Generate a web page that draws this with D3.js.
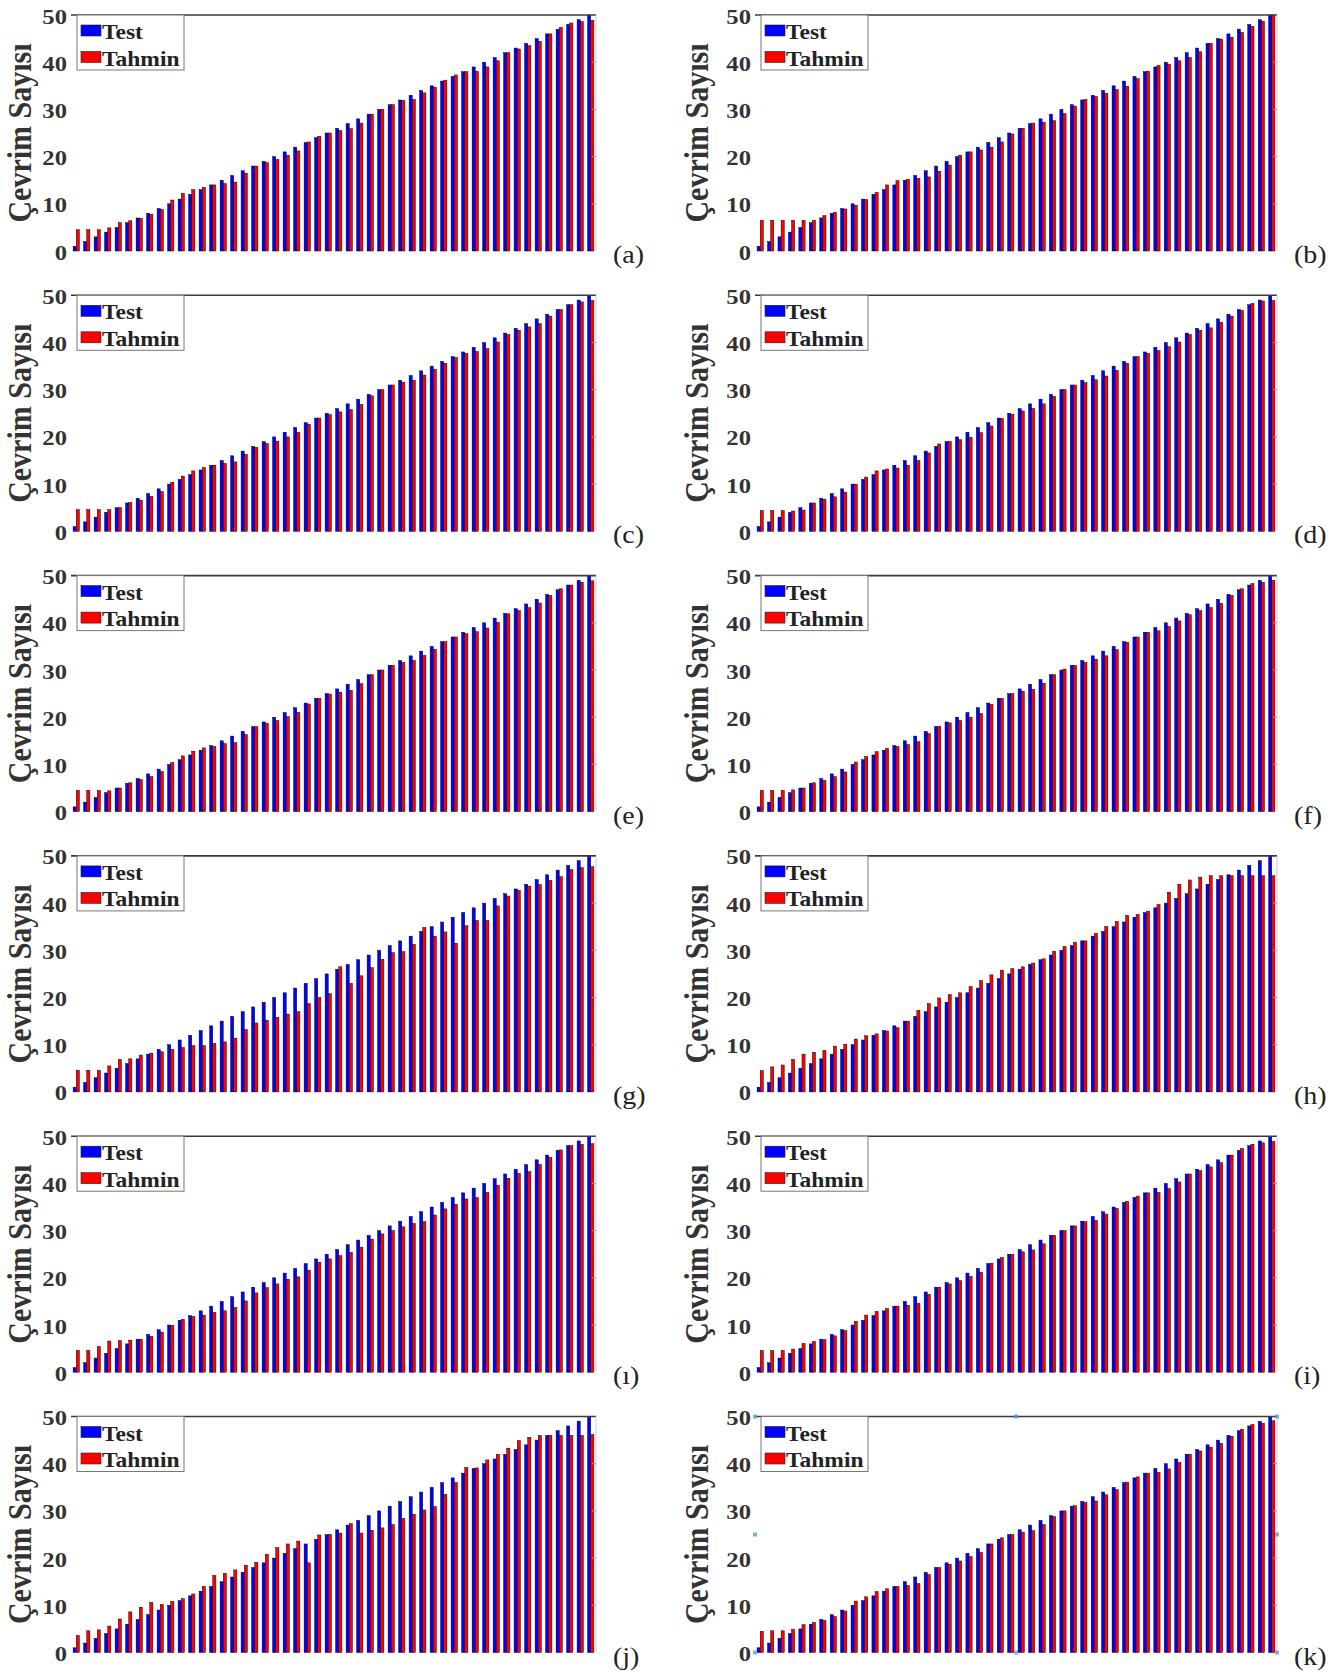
<!DOCTYPE html>
<html>
<head>
<meta charset="utf-8">
<script src="https://cdn.jsdelivr.net/npm/d3@7/dist/d3.min.js"></script>
<style>
  body { margin: 0; background: #fff; }
  svg { display: block; }
</style>
</head>
<body>
<svg id="fig" width="1343" height="1673"></svg>
<script>
// ---- data ---------------------------------------------------------------
const testCycles = [1,2,3,4,5,6,7,8,9,10,11,12,13,14,15,16,17,18,19,20,
  21,22,23,24,25,26,27,28,29,30,31,32,33,34,35,36,37,38,39,40,
  41,42,43,44,45,46,47,48,49,50];

const tahminA = [4.5,4.5,4.5,4.9,6.0,6.4,6.9,7.8,8.8,10.8,12.2,13.0,13.5,14.0,14.3,14.6,16.5,18.0,18.7,19.4,
  20.3,21.2,23.1,24.3,25.0,25.5,25.9,27.1,29.0,30.0,31.0,31.9,32.1,33.5,34.7,36.2,37.3,38.0,38.1,39.0,
  40.3,42.0,42.8,43.5,44.4,46.0,47.4,48.3,48.6,48.9];
const tahminB = [6.5,6.5,6.5,6.5,6.5,6.5,7.5,8.2,8.9,9.7,10.9,12.4,14.0,14.9,15.2,15.4,15.7,16.9,18.2,20.3,
  21.0,21.4,22.0,23.1,24.8,26.0,27.1,27.3,27.6,29.1,30.7,32.1,32.7,33.4,34.2,34.9,36.5,38.1,39.3,39.6,
  40.3,41.0,42.2,44.0,44.9,45.3,46.3,47.6,48.7,50.0];
const tahminC = [4.6,4.6,4.6,4.6,5.0,6.1,6.6,7.4,8.4,10.4,11.7,12.8,13.5,14.0,14.4,14.7,16.3,17.8,18.6,19.1,
  20.0,21.0,22.7,24.0,24.7,25.3,25.8,26.9,28.7,30.0,31.0,31.6,32.0,33.1,34.3,35.6,36.8,37.7,38.1,38.7,
  40.1,41.7,42.6,43.3,44.0,45.6,47.0,48.0,48.6,48.9];
const tahminD = [4.4,4.4,4.4,4.3,4.5,6.0,6.8,7.3,8.3,10.0,11.5,12.8,13.2,13.4,14.0,15.0,16.6,18.5,19.0,19.4,
  19.9,20.9,22.3,23.9,24.8,25.5,26.0,27.0,28.6,30.0,31.0,31.5,32.1,32.9,34.1,35.6,37.0,37.7,38.3,39.1,
  40.1,41.7,42.6,43.1,44.3,45.6,46.8,48.3,48.8,48.9];
const tahminE = [4.5,4.5,4.5,4.4,5.0,6.1,6.8,7.4,8.5,10.4,11.8,12.8,13.5,13.8,14.4,14.6,16.3,18.0,18.7,19.3,
  20.1,21.0,22.8,24.0,24.9,25.3,25.7,27.1,29.0,30.0,31.0,31.6,32.0,33.1,34.4,36.0,37.0,37.7,38.1,38.9,
  40.1,41.9,42.6,43.2,44.2,45.8,47.2,48.0,48.6,48.9];
const tahminF = [4.5,4.5,4.5,4.6,5.0,6.1,6.6,7.4,8.4,10.5,11.7,12.7,13.4,13.8,14.2,14.8,16.5,18.1,18.8,19.3,
  20.0,20.8,22.7,24.0,25.0,25.5,25.9,27.2,29.0,30.2,31.0,31.6,32.3,33.0,34.3,35.9,37.0,38.0,38.3,39.2,
  40.4,41.7,42.6,43.2,44.1,45.8,47.2,48.3,48.6,49.0];
const tahminG = [4.6,4.6,4.6,5.5,6.9,7.0,7.8,8.2,8.5,9.0,9.4,9.8,9.8,10.3,10.6,11.4,13.2,14.6,15.2,15.8,
  16.5,17.0,18.7,20.0,20.8,26.5,23.0,24.6,26.3,28.1,29.5,29.7,31.3,34.8,33.0,33.9,31.5,35.2,36.3,36.3,
  39.4,41.5,42.7,43.6,43.9,44.8,45.6,47.1,47.5,47.7];
const tahminH = [4.5,5.3,5.7,6.9,8.0,8.4,8.8,9.7,10.1,11.2,11.9,12.3,12.9,13.6,15.0,17.3,18.7,19.9,20.6,21.0,
  22.3,23.6,24.8,25.8,26.1,26.5,27.3,28.2,29.8,30.8,31.7,32.0,33.6,35.0,36.1,37.4,37.6,38.3,39.7,42.3,
  44.0,44.9,45.5,45.8,45.8,45.8,45.8,45.8,45.8,45.8];
const tahminDotlessI = [4.6,4.6,5.4,6.6,6.7,6.8,7.0,7.6,8.5,9.9,11.2,11.8,12.1,12.7,13.0,13.7,15.1,16.8,17.9,18.7,
  19.7,20.2,21.6,23.3,24.0,24.7,25.4,26.5,28.2,29.3,30.0,30.8,31.5,31.9,33.3,34.6,35.6,36.7,37.0,38.1,
  39.6,41.1,42.1,42.5,44.0,45.5,47.1,48.0,48.3,48.4];
const tahminI = [4.6,4.6,4.6,4.9,6.1,6.5,6.9,7.7,8.8,10.8,12.1,12.9,13.5,14.0,14.2,14.6,16.5,18.0,18.7,19.4,
  20.3,21.2,23.1,24.3,25.0,25.5,25.9,27.2,29.0,30.0,31.0,31.9,32.2,33.5,34.7,36.2,37.3,38.0,38.1,38.9,
  40.3,42.0,42.7,43.5,44.4,46.0,47.4,48.3,48.6,48.9];
const tahminJ = [3.6,4.6,4.8,5.6,7.1,8.6,9.6,10.6,10.2,10.8,11.4,12.4,14.0,16.3,16.8,17.5,18.5,19.1,20.8,22.2,
  23.0,23.6,19.0,24.9,25.0,25.3,27.3,25.3,25.9,26.4,27.1,28.4,29.3,30.2,30.9,33.5,36.0,39.2,39.1,40.8,
  42.0,43.3,44.9,45.6,46.0,46.0,46.0,46.0,46.0,46.2];
const tahminK = [4.5,4.6,4.6,4.9,5.9,6.4,6.8,7.6,8.8,10.9,11.8,12.9,13.5,14.0,14.2,14.6,16.5,18.0,18.7,19.4,
  20.3,21.2,23.0,24.3,25.0,25.5,25.8,27.1,28.8,30.0,31.1,31.8,32.1,33.4,34.5,36.1,37.2,38.0,38.2,38.9,
  40.3,42.0,42.7,43.5,44.3,45.8,47.3,48.3,48.6,49.1];

const panelLabels = ["(a)","(b)","(c)","(d)","(e)","(f)","(g)","(h)","(ı)","(i)","(j)","(k)"];
const panelTahmin = [tahminA,tahminB,tahminC,tahminD,tahminE,tahminF,tahminG,tahminH,tahminDotlessI,tahminI,tahminJ,tahminK];
const seriesNames = ["Test","Tahmin"];
const yTicks = [0,10,20,30,40,50];
const yTitle = "Çevrim Sayısı";

// ---- layout & style -----------------------------------------------------
const serif = "'Liberation Serif','Times New Roman',serif";
const colBox = [{left: 71, right: 596, titleX: 31}, {left: 755, right: 1277, titleX: 708}];
const rowTop0 = 15, rowStep = 280.3, plotH = 236;
const seriesColor = {Test: "#0000ff", Tahmin: "#ff0000"};
const stretch = 1.12;   // wide glyphs of the figure's typeface

const svg = d3.select("#fig");

panelLabels.forEach((label, i) => {
  const col = i % 2, row = Math.floor(i / 2);
  const x0 = colBox[col].left, x1 = colBox[col].right;
  const y0 = rowTop0 + row * rowStep, y1 = y0 + plotH;
  const tahmin = panelTahmin[i];

  const g = svg.append("g").attr("class", "panel");

  const x = d3.scaleBand()
    .domain(testCycles.map((_, k) => k))
    .range([x0, x1])
    .paddingInner(0.4)
    .paddingOuter(0.2);
  const xs = d3.scaleBand().domain(seriesNames).range([0, x.bandwidth()]);
  const y = d3.scaleLinear().domain([0, 50]).range([y1, y0]);

  const rows = testCycles.map((t, k) => ({k, Test: t, Tahmin: tahmin[k]}));

  // grouped bars
  const grp = g.append("g").selectAll("g").data(rows).join("g")
    .attr("transform", d => `translate(${x(d.k)},0)`);
  grp.selectAll("rect")
    .data(d => seriesNames.map(s => ({s, v: d[s]})))
    .join("rect")
    .attr("x", d => xs(d.s))
    .attr("width", xs.bandwidth())
    .attr("y", d => y(d.v))
    .attr("height", d => y1 - y(d.v))
    .attr("fill", d => seriesColor[d.s])
    .attr("stroke", "#000")
    .attr("stroke-width", 0.45);

  // box: dark top edge, pale right edge with inward ticks
  g.append("line").attr("x1", x0).attr("x2", x1).attr("y1", y0).attr("y2", y0)
    .attr("stroke", "#3a3a3a").attr("stroke-width", 1.6);
  g.append("line").attr("x1", x1).attr("x2", x1).attr("y1", y0).attr("y2", y1)
    .attr("stroke", "#cfcfcf").attr("stroke-width", 1);
  g.append("g").selectAll("line").data(yTicks.slice(1, -1)).join("line")
    .attr("x1", x1 - 4).attr("x2", x1)
    .attr("y1", d => y(d)).attr("y2", d => y(d))
    .attr("stroke", "#9a9a9a").attr("stroke-width", 1);

  // y axis (labels only)
  const ax = g.append("g")
    .attr("transform", `translate(${x0},0)`)
    .call(d3.axisLeft(y).tickValues(yTicks).tickSize(0).tickPadding(0));
  ax.select(".domain").remove();
  ax.selectAll("text")
    .attr("x", null).attr("dy", null)
    .attr("transform", `translate(-4,8) scale(${stretch},1)`)
    .attr("font-family", serif)
    .attr("font-weight", "bold")
    .attr("font-size", 22)
    .attr("fill", "#333");

  // y title
  g.append("text")
    .attr("transform", `translate(${colBox[col].titleX},${(y0 + y1) / 2}) scale(${stretch},1) rotate(-90)`)
    .attr("text-anchor", "middle")
    .attr("font-family", serif)
    .attr("font-weight", "bold")
    .attr("font-size", 30)
    .attr("fill", "#333")
    .text(yTitle);

  // legend
  const bx = x0 + 6, by = y0;
  const lg = g.append("g").attr("transform", `translate(${bx},${by})`);
  lg.append("rect").attr("width", 107).attr("height", 55)
    .attr("fill", "#fff").attr("stroke", "#777").attr("stroke-width", 1);
  seriesNames.forEach((s, j) => {
    lg.append("rect")
      .attr("x", 4).attr("y", 10 + j * 26.5)
      .attr("width", 20).attr("height", 11)
      .attr("fill", seriesColor[s]).attr("stroke", "#222").attr("stroke-width", 0.6);
    lg.append("text")
      .attr("transform", `translate(25,${24 + j * 26.5}) scale(${stretch},1)`)
      .attr("font-family", serif)
      .attr("font-weight", "bold")
      .attr("font-size", 21)
      .attr("fill", "#222")
      .text(s);
  });

  // panel letter
  g.append("text")
    .attr("transform", `translate(${x1 + 17},${y1 + 12}) scale(${stretch},1)`)
    .attr("font-family", serif)
    .attr("font-size", 25)
    .attr("fill", "#222")
    .text(label);

  // selection handles shown on the last panel
  if (label === "(k)") {
    const hx = [x0, (x0 + x1) / 2, x1], hy = [y0, (y0 + y1) / 2, y1];
    const pts = [];
    hx.forEach(a => hy.forEach(b => { if (!(a === hx[1] && b === hy[1])) pts.push([a, b]); }));
    g.append("g").selectAll("rect").data(pts).join("rect")
      .attr("x", d => d[0] - 2).attr("y", d => d[1] - 2)
      .attr("width", 4).attr("height", 4)
      .attr("fill", "#5b9bd5").attr("opacity", 0.8);
  }
});
</script>
</body>
</html>
